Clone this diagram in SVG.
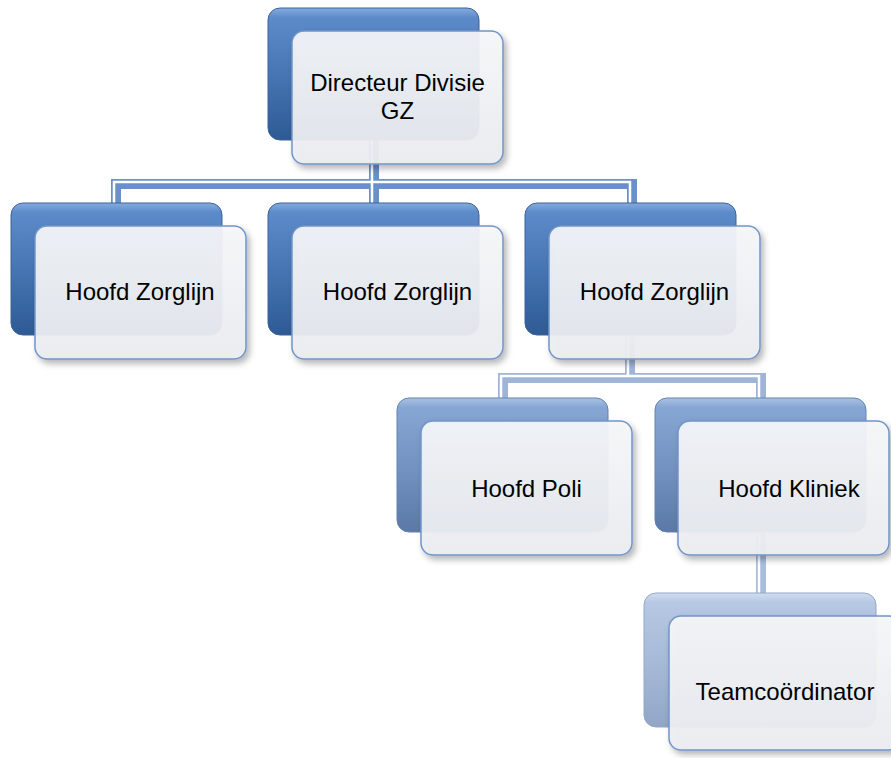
<svg xmlns="http://www.w3.org/2000/svg" width="891" height="758" viewBox="0 0 891 758">
<defs>
<linearGradient id="gDark" x1="0" y1="0" x2="0" y2="1">
<stop offset="0" stop-color="#86acdf"/>
<stop offset="0.07" stop-color="#5d8bc9"/>
<stop offset="0.55" stop-color="#4473b1"/>
<stop offset="1" stop-color="#2e5a94"/>
</linearGradient>
<linearGradient id="gMid" x1="0" y1="0" x2="0" y2="1">
<stop offset="0" stop-color="#a9c3e6"/>
<stop offset="0.07" stop-color="#86a6d3"/>
<stop offset="0.55" stop-color="#7291c0"/>
<stop offset="1" stop-color="#5b78a6"/>
</linearGradient>
<linearGradient id="gLight" x1="0" y1="0" x2="0" y2="1">
<stop offset="0" stop-color="#d2def0"/>
<stop offset="0.07" stop-color="#b6c8e3"/>
<stop offset="0.55" stop-color="#a5b8d6"/>
<stop offset="1" stop-color="#91a6c6"/>
</linearGradient>
<linearGradient id="gFront" x1="0" y1="0" x2="0" y2="1">
<stop offset="0" stop-color="#f6f7f9"/>
<stop offset="1" stop-color="#eceef1"/>
</linearGradient>
<filter id="sh" x="-10%" y="-10%" width="130%" height="130%">
<feDropShadow dx="3" dy="4" stdDeviation="3" flood-color="#000" flood-opacity="0.3"/>
</filter>
<style>
.bd{fill:url(#gDark);stroke:#3c6399;stroke-width:1}
.bm{fill:url(#gMid);stroke:#6583b0;stroke-width:1}
.bl{fill:url(#gLight);stroke:#93a8c8;stroke-width:1}
.fr{fill:url(#gFront);fill-opacity:0.93;stroke:#7195c9;stroke-width:1.5;filter:url(#sh)}
.t{font-family:"Liberation Sans",Arial,sans-serif;font-size:24px;fill:#000;text-anchor:middle}
.c1{fill:none;stroke:#6a90c8;stroke-width:10}
.c2{fill:none;stroke:#9fb5d8;stroke-width:10}
.c3{fill:none;stroke:#aabdda;stroke-width:10}
.cw{fill:none;stroke:#fff;stroke-width:2.5}
</style>
</defs>
<g id="connectors">
<path class="c1" d="M374,140 V184 M116,203 V184 H632 V203 M374,184 V203"/>
<path class="cw" transform="translate(-2,-2)" d="M374,140 V184 M116,205 V184 H632 V205 M374,184 V205"/>
<path class="c2" d="M630,335 V378 M503,398 V378 H761 V398"/>
<path class="cw" transform="translate(-2,-2)" d="M630,335 V378 M503,400 V378 H761 V400"/>
<path class="c3" d="M761,533 V593"/>
<path class="cw" transform="translate(-2,0)" d="M761,533 V593"/>
</g>
<g id="directeur">
<rect class="bd" x="268" y="8" width="211" height="132" rx="12"/>
<rect class="fr" x="292" y="31" width="211" height="133" rx="12"/>
<text class="t" x="397.5" y="91">Directeur Divisie</text>
<text class="t" x="397.5" y="119">GZ</text>
</g>
<g id="zorglijn1">
<rect class="bd" x="11" y="203" width="211" height="132" rx="12"/>
<rect class="fr" x="35" y="226" width="211" height="133" rx="12"/>
<text class="t" x="140" y="300">Hoofd Zorglijn</text>
</g>
<g id="zorglijn2">
<rect class="bd" x="268" y="203" width="211" height="132" rx="12"/>
<rect class="fr" x="292" y="226" width="211" height="133" rx="12"/>
<text class="t" x="397.5" y="300">Hoofd Zorglijn</text>
</g>
<g id="zorglijn3">
<rect class="bd" x="525" y="203" width="211" height="132" rx="12"/>
<rect class="fr" x="549" y="226" width="211" height="133" rx="12"/>
<text class="t" x="654.5" y="300">Hoofd Zorglijn</text>
</g>
<g id="poli">
<rect class="bm" x="397" y="398" width="211" height="134" rx="12"/>
<rect class="fr" x="421" y="421" width="211" height="134" rx="12"/>
<text class="t" x="526.5" y="497">Hoofd Poli</text>
</g>
<g id="kliniek">
<rect class="bm" x="655" y="398" width="211" height="134" rx="12"/>
<rect class="fr" x="678" y="421" width="211" height="134" rx="12"/>
<text class="t" x="789" y="497">Hoofd Kliniek</text>
</g>
<g id="teamcoordinator">
<rect class="bl" x="644" y="593" width="232" height="134" rx="12"/>
<rect class="fr" x="669" y="616" width="232" height="134" rx="12"/>
<text class="t" x="785" y="700">Teamcoördinator</text>
</g>
</svg>
